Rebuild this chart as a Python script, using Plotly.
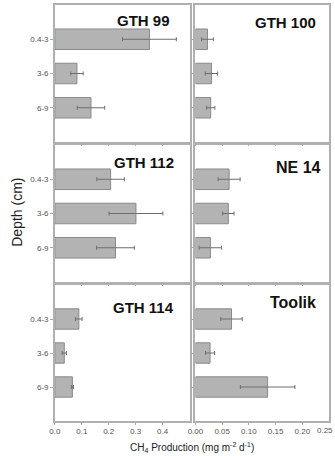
import plotly.graph_objects as go

depths = ["0.4-3", "3-6", "6-9"]
sites = ["GTH 99", "GTH 100", "GTH 112", "NE 14", "GTH 114", "Toolik"]
values = {
    "GTH 99":  [0.351, 0.082, 0.134],
    "GTH 100": [0.0225, 0.030, 0.0286],
    "GTH 112": [0.207, 0.301, 0.225],
    "NE 14":   [0.063, 0.0615, 0.028],
    "GTH 114": [0.089, 0.035, 0.065],
    "Toolik":  [0.0675, 0.0274, 0.135],
}
errors = {
    "GTH 99":  [0.100, 0.023, 0.051],
    "GTH 100": [0.011, 0.0115, 0.0077],
    "GTH 112": [0.051, 0.100, 0.070],
    "NE 14":   [0.0206, 0.0106, 0.021],
    "GTH 114": [0.012, 0.008, 0.004],
    "Toolik":  [0.020, 0.0085, 0.051],
}
left_ticks = [0.0, 0.1, 0.2, 0.3, 0.4]
left_ticklabels = ["0.0", "0.1", "0.2", "0.3", "0.4"]
right_ticks = [0.0, 0.05, 0.10, 0.15, 0.20]
right_ticklabels = ["0.00", "0.05", "0.10", "0.15", "0.20"]
right_last_tick = "0.25"

W, H = 335, 456
col_px = [(48, 186), (192, 329)]
row_px = [(5, 142), (145, 282), (285, 421)]
title_pos = {  # right edge px, center y px, font size
    "GTH 99": (168, 21, 15), "GTH 100": (318, 22, 15),
    "GTH 112": (172, 162, 15), "NE 14": (323, 167, 16),
    "GTH 114": (172, 307, 15), "Toolik": (318, 302, 16),
}

fig = go.Figure()
layout = {}
grey = "#555555"
for i, site in enumerate(sites):
    r, c = divmod(i, 2)
    n = i + 1
    xa = "x" if n == 1 else f"x{n}"
    ya = "y" if n == 1 else f"y{n}"
    fig.add_trace(go.Bar(
        x=values[site], y=[0, 1, 2], orientation="h", width=0.6,
        marker=dict(color="#b3b3b3", line=dict(color="#8a8a8a", width=1)),
        error_x=dict(type="data", array=errors[site], color="#6e6e6e",
                     thickness=1, width=2),
        xaxis=xa, yaxis=ya, showlegend=False,
    ))
    x0, x1 = col_px[c]
    y0, y1 = row_px[r]
    left = c == 0
    bottom = r == 2
    layout[f"xaxis{'' if n == 1 else n}"] = dict(
        domain=[x0 / W, x1 / W], anchor=ya,
        range=[0, 0.5] if left else [0, 0.25],
        tickvals=left_ticks if left else right_ticks,
        ticktext=left_ticklabels if left else right_ticklabels,
        showticklabels=bottom,
        ticks="outside", ticklen=2, tickcolor="#aaaaaa",
        showline=True, mirror=True, linecolor="#b0b0b0", linewidth=1.5,
        showgrid=False, zeroline=False,
        tickfont=dict(family="Liberation Sans, Arial", size=8, color=grey),
    )
    layout[f"yaxis{'' if n == 1 else n}"] = dict(
        domain=[1 - y1 / H, 1 - y0 / H], anchor=xa,
        range=[3, -1],
        tickvals=[0, 1, 2],
        ticktext=depths,
        showticklabels=left,
        ticks="outside", ticklen=3, tickcolor="#aaaaaa",
        showline=True, mirror=True, linecolor="#b0b0b0", linewidth=1.5,
        showgrid=False, zeroline=False,
        tickfont=dict(family="Liberation Sans, Arial", size=8, color=grey),
    )

annotations = []
for site in sites:
    xr, yc, fs = title_pos[site]
    annotations.append(dict(
        text=f"<b>{site}</b>", xref="paper", yref="paper",
        x=xr / W, y=1 - yc / H, xanchor="right", yanchor="middle",
        showarrow=False, font=dict(family="Liberation Sans, Arial", size=fs, color="#111111"),
    ))
annotations.append(dict(
    text=right_last_tick, xref="paper", yref="paper", x=1.0, y=1 - 424 / H,
    xanchor="right", yanchor="top", showarrow=False,
    font=dict(family="Liberation Sans, Arial", size=8, color=grey),
))
annotations.append(dict(
    text="Depth (cm)", xref="paper", yref="paper", x=9 / W, y=1 - 212 / H,
    textangle=-90, xanchor="center", yanchor="middle", showarrow=False,
    font=dict(family="Liberation Sans, Arial", size=14, color="#222222"),
))
annotations.append(dict(
    text="CH<sub>4</sub> Production (mg m<sup>-2</sup> d<sup>-1</sup>)",
    xref="paper", yref="paper", x=188 / W, y=0.0,
    xanchor="center", yanchor="bottom", showarrow=False,
    font=dict(family="Liberation Sans, Arial", size=10, color="#222222"),
))

fig.update_layout(
    width=W, height=H, margin=dict(l=0, r=0, t=0, b=0),
    paper_bgcolor="white", plot_bgcolor="white",
    annotations=annotations, bargap=0.4, **layout,
)
fig.write_html("out.html")
